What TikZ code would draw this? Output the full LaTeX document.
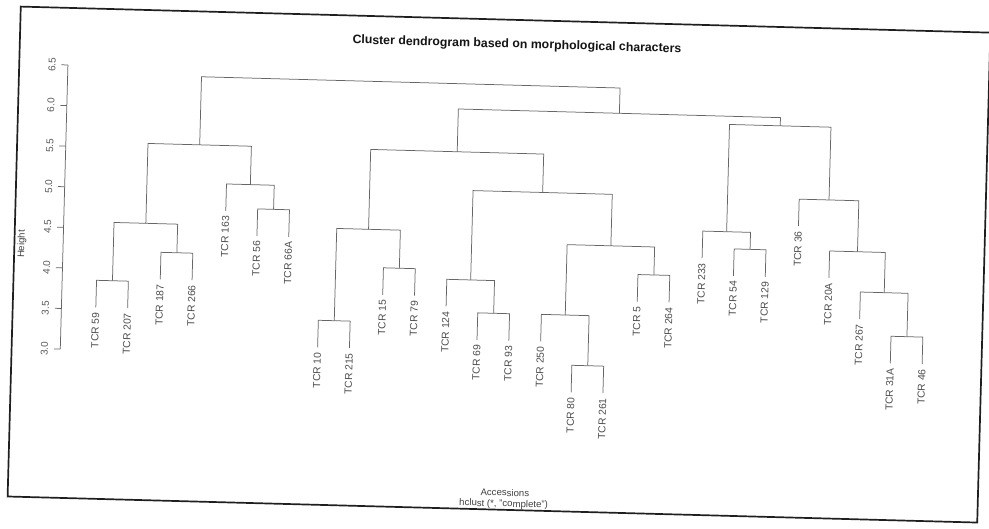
\documentclass[tikz,border=0pt]{standalone}
\usepackage{fontspec}
\setmainfont{Liberation Sans}
\begin{document}
\begin{tikzpicture}[x=1pt,y=-1pt,
  link/.style={draw=black!60, line width=0.75pt},
  axisline/.style={draw=black!60, line width=0.75pt},
  frameline/.style={draw=black!88, line width=1.7pt},
  leaflab/.style={rotate=90, anchor=east, inner xsep=5pt, inner ysep=0pt, text=black!70, font=\fontsize{10.3}{12}\selectfont},
  ticklab/.style={rotate=90, inner sep=0pt, text=black!65, font=\fontsize{10}{12}\selectfont},
  axtitle/.style={inner sep=0pt, text=black!75, font=\fontsize{9.6}{11}\selectfont},
  maintitle/.style={inner sep=0pt, text=black!92, font=\fontsize{12.3}{14}\selectfont\bfseries}]
\useasboundingbox (0,0) rectangle (989,529);
\begin{scope}[rotate around={-1.54:(494.5,264.5)}, transform shape]
  % frame
  \draw[frameline] (14,19.4) rectangle (984,509.5);
  % title and axis titles
  \node[maintitle] (title) at (511,44.4) {Cluster dendrogram based on morphological characters};
  \node[axtitle] (xlab) at (511,492.2) {Accessions};
  \node[axtitle] (sublab) at (510,504.0) {hclust (*, "complete")};
  \node[axtitle, rotate=90] (ylab) at (21.5,256.7) {Height};
  % y axis
  \coordinate (axlo) at (62.7,360.7);
  \coordinate (axhi) at (62.7,76.5);
  \draw[axisline] (axlo) -- (axhi);
  \foreach \v [count=\k from 0] in {3.0,3.5,4.0,4.5,5.0,5.5,6.0,6.5} {
    \draw[axisline] (62.7,360.7-40.6*\k) -- (56.2,360.7-40.6*\k);
    \node[ticklab] (tick\k) at (46.8,360.7-40.6*\k) {\v};
  }
  % leaves (bottom ends of leaf lines)
  \coordinate (L1) at (97.10,318);
  \coordinate (L2) at (128.93,318);
  \coordinate (L3) at (160.76,288.3);
  \coordinate (L4) at (192.59,288.3);
  \coordinate (L5) at (224.42,218.2);
  \coordinate (L6) at (256.25,242.3);
  \coordinate (L7) at (288.08,242.3);
  \coordinate (L8) at (319.91,352);
  \coordinate (L9) at (351.74,352);
  \coordinate (L10) at (383.57,297.8);
  \coordinate (L11) at (415.40,297.8);
  \coordinate (L12) at (447.23,307.6);
  \coordinate (L13) at (479.06,340.3);
  \coordinate (L14) at (510.89,340.3);
  \coordinate (L15) at (542.72,340.1);
  \coordinate (L16) at (574.55,390.2);
  \coordinate (L17) at (606.38,390.2);
  \coordinate (L18) at (638.21,297.7);
  \coordinate (L19) at (670.04,297.7);
  \coordinate (L20) at (701.87,252.5);
  \coordinate (L21) at (733.70,269.5);
  \coordinate (L22) at (765.53,269.5);
  \coordinate (L23) at (797.36,218);
  \coordinate (L24) at (829.19,269);
  \coordinate (L25) at (861.02,309.2);
  \coordinate (L26) at (892.85,352.6);
  \coordinate (L27) at (924.68,352.6);
  % leaf labels
  \node[leaflab] (t1) at (L1) {TCR 59};
  \node[leaflab] (t2) at (L2) {TCR 207};
  \node[leaflab] (t3) at (L3) {TCR 187};
  \node[leaflab] (t4) at (L4) {TCR 266};
  \node[leaflab] (t5) at (L5) {TCR 163};
  \node[leaflab] (t6) at (L6) {TCR 56};
  \node[leaflab] (t7) at (L7) {TCR 66A};
  \node[leaflab] (t8) at (L8) {TCR 10};
  \node[leaflab] (t9) at (L9) {TCR 215};
  \node[leaflab] (t10) at (L10) {TCR 15};
  \node[leaflab] (t11) at (L11) {TCR 79};
  \node[leaflab] (t12) at (L12) {TCR 124};
  \node[leaflab] (t13) at (L13) {TCR 69};
  \node[leaflab] (t14) at (L14) {TCR 93};
  \node[leaflab] (t15) at (L15) {TCR 250};
  \node[leaflab] (t16) at (L16) {TCR 80};
  \node[leaflab] (t17) at (L17) {TCR 261};
  \node[leaflab] (t18) at (L18) {TCR 5};
  \node[leaflab] (t19) at (L19) {TCR 264};
  \node[leaflab] (t20) at (L20) {TCR 233};
  \node[leaflab] (t21) at (L21) {TCR 54};
  \node[leaflab] (t22) at (L22) {TCR 129};
  \node[leaflab] (t23) at (L23) {TCR 36};
  \node[leaflab] (t24) at (L24) {TCR 20A};
  \node[leaflab] (t25) at (L25) {TCR 267};
  \node[leaflab] (t26) at (L26) {TCR 31A};
  \node[leaflab] (t27) at (L27) {TCR 46};
  % merge points
  \coordinate (m1) at (113.02,291);
  \coordinate (m2) at (176.68,261.3);
  \coordinate (m3) at (144.85,232.7);
  \coordinate (m4) at (272.17,215.3);
  \coordinate (m5) at (248.30,191.2);
  \coordinate (m6) at (196.57,152.8);
  \coordinate (m7) at (335.83,325);
  \coordinate (m8) at (399.49,270.8);
  \coordinate (m9) at (367.66,232.7);
  \coordinate (m10) at (494.98,313.3);
  \coordinate (m11) at (471.10,280.6);
  \coordinate (m12) at (590.47,363.2);
  \coordinate (m13) at (566.60,313.1);
  \coordinate (m14) at (654.13,270.7);
  \coordinate (m15) at (610.36,242.7);
  \coordinate (m16) at (540.73,191.2);
  \coordinate (m17) at (454.20,152.8);
  \coordinate (m18) at (749.60,242.5);
  \coordinate (m19) at (725.70,225.5);
  \coordinate (m20) at (908.77,325.6);
  \coordinate (m21) at (884.90,282.2);
  \coordinate (m22) at (857.05,242);
  \coordinate (m23) at (827.20,191);
  \coordinate (m24) at (776.45,118.2);
  \coordinate (m25) at (615.30,110);
  \coordinate (m26) at (405.90,84.7);
  % links
  \draw[link] (L1) |- (m1) -| (L2);
  \draw[link] (L3) |- (m2) -| (L4);
  \draw[link] (m1) |- (m3) -| (m2);
  \draw[link] (L6) |- (m4) -| (L7);
  \draw[link] (L5) |- (m5) -| (m4);
  \draw[link] (m3) |- (m6) -| (m5);
  \draw[link] (L8) |- (m7) -| (L9);
  \draw[link] (L10) |- (m8) -| (L11);
  \draw[link] (m7) |- (m9) -| (m8);
  \draw[link] (L13) |- (m10) -| (L14);
  \draw[link] (L12) |- (m11) -| (m10);
  \draw[link] (L16) |- (m12) -| (L17);
  \draw[link] (L15) |- (m13) -| (m12);
  \draw[link] (L18) |- (m14) -| (L19);
  \draw[link] (m13) |- (m15) -| (m14);
  \draw[link] (m11) |- (m16) -| (m15);
  \draw[link] (m9) |- (m17) -| (m16);
  \draw[link] (L21) |- (m18) -| (L22);
  \draw[link] (L20) |- (m19) -| (m18);
  \draw[link] (L26) |- (m20) -| (L27);
  \draw[link] (L25) |- (m21) -| (m20);
  \draw[link] (L24) |- (m22) -| (m21);
  \draw[link] (L23) |- (m23) -| (m22);
  \draw[link] (m19) |- (m24) -| (m23);
  \draw[link] (m17) |- (m25) -| (m24);
  \draw[link] (m6) |- (m26) -| (m25);
\end{scope}
\end{tikzpicture}
\end{document}
